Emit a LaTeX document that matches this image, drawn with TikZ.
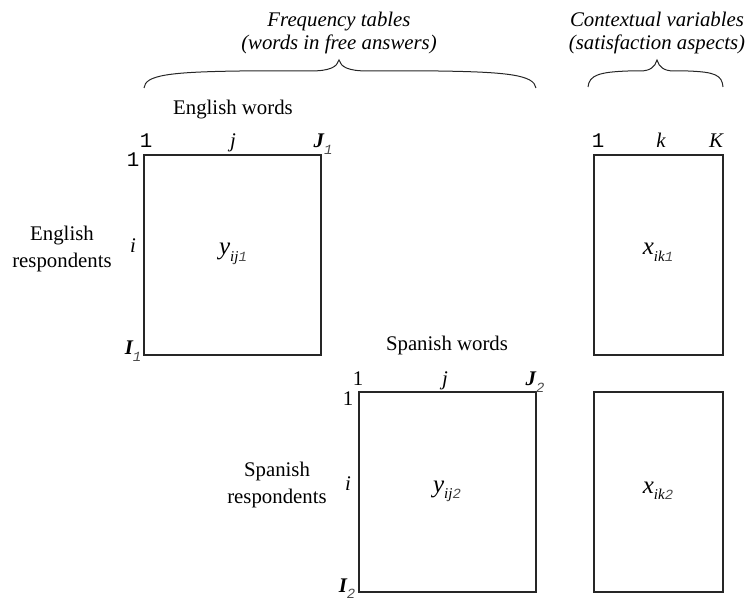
\documentclass[tikz,border=0pt]{standalone}
\usepackage{fontspec}
\setmainfont{Liberation Serif}
\setmonofont{Liberation Mono}
\newcommand\dsub[1]{\raisebox{-0.3em}{\fontsize{14}{14}\selectfont\ttfamily\mdseries\itshape\color{black!70}#1}}
\newcommand\isub[1]{\raisebox{-0.3em}{\fontsize{15}{15}\selectfont\mdseries\itshape #1}}
\newcommand\bigvar[1]{{\fontsize{25}{25}\selectfont\itshape #1}}
\begin{document}
\begin{tikzpicture}[x=1pt,y=-1pt,
  every node/.style={font=\fontsize{20.8}{24}\selectfont, inner sep=0pt, outer sep=0pt},
  lbl/.style={anchor=base},
  itl/.style={font=\fontsize{20.8}{24}\selectfont\itshape},
  bitl/.style={font=\fontsize{20.8}{24}\selectfont\bfseries\itshape},
  mono/.style={font=\fontsize{20.8}{24}\selectfont\ttfamily},
  resp/.style={align=center, font=\fontsize{20.8}{26.5}\selectfont},
  tablebox/.style={draw=black!85, line width=1.3pt, anchor=north west, minimum height=200pt},
  bracestyle/.style={draw=black!85, line width=1pt}]
\useasboundingbox (0,0) rectangle (747,601);

% titles
\node[lbl,itl] (t1a) at (339,27) {Frequency tables};
\node[lbl,itl] (t1b) at (339,50) {(words in free answers)};
\node[lbl,itl] (t2a) at (657,27) {Contextual variables};
\node[lbl,itl] (t2b) at (657,50) {(satisfaction aspects)};

% braces
\draw[bracestyle] (144,88) .. controls (145,75) and (170,72) .. (240,71)
  -- (310,71) .. controls (330,71) and (337,67) .. (339,60)
  .. controls (341,67) and (348,71) .. (368,71) -- (438,71)
  .. controls (508,72) and (534,75) .. (536,88);
\draw[bracestyle] (588,87) .. controls (589,75) and (600,72) .. (628,71)
  -- (640,71) .. controls (650,71) and (655,67) .. (657,60)
  .. controls (659,67) and (664,71) .. (674,71) -- (688,71)
  .. controls (715,72) and (722,75) .. (723,87);

% boxes
\node[tablebox, minimum width=177pt] (Y1) at (144,155) {};
\node[tablebox, minimum width=177pt] (Y2) at (359,392) {};
\node[tablebox, minimum width=129pt] (X1) at (594,155) {};
\node[tablebox, minimum width=129pt] (X2) at (594,392) {};

% English table labels
\node[lbl] (ew) at (233,115) {English words};
\node[lbl,mono] (ec1) at (146,148) {1};
\node[lbl,itl] (ecj) at (233,148) {j};
\node[lbl,bitl] (ecJ) at (323,148) {J\dsub{1}};
\node[lbl,mono] (er1) at (133,167) {1};
\node[lbl,itl] (eri) at (133,253) {i};
\node[lbl,bitl] (erI) at (133,355) {I\dsub{1}};
\node[resp] (eresp) at (62,249) {English\\respondents};
\node[lbl] (y1) at (233,255) {\bigvar{y}\isub{ij}\dsub{1}};

% Spanish table labels
\node[lbl] (sw) at (447,351) {Spanish words};
\node[lbl] (sc1) at (358,386) {1};
\node[lbl,itl] (scj) at (445,386) {j};
\node[lbl,bitl] (scJ) at (535,386) {J\dsub{2}};
\node[lbl] (sr1) at (348,406) {1};
\node[lbl,itl] (sri) at (348,490) {i};
\node[lbl,bitl] (srI) at (347,592) {I\dsub{2}};
\node[resp] (sresp) at (277,485) {Spanish\\respondents};
\node[lbl] (y2) at (447,492) {\bigvar{y}\isub{ij}\dsub{2}};

% contextual labels
\node[lbl,mono] (xc1) at (598,148) {1};
\node[lbl,itl] (xck) at (661,148) {k};
\node[lbl,itl] (xcK) at (716,148) {K};
\node[lbl] (x1) at (658,255) {\bigvar{x}\isub{ik}\dsub{1}};
\node[lbl] (x2) at (658,493) {\bigvar{x}\isub{ik}\dsub{2}};
\end{tikzpicture}
\end{document}
